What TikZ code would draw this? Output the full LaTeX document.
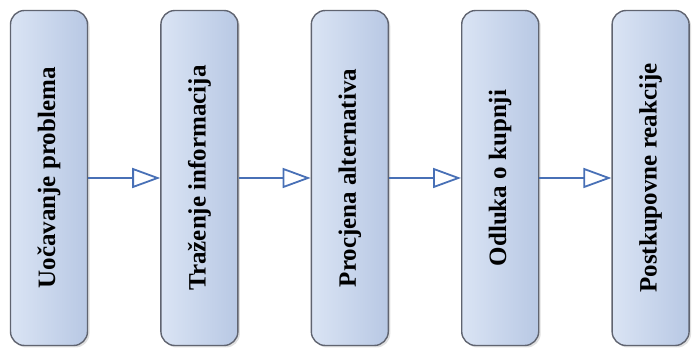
\documentclass[tikz,border=0pt]{standalone}
\usepackage{fontspec}
\setmainfont{Liberation Serif}
\usetikzlibrary{positioning,arrows.meta,shadows}
\definecolor{boxfill}{RGB}{218,228,244}
\definecolor{boxfillb}{RGB}{184,200,228}
\definecolor{boxline}{RGB}{96,100,112}
\definecolor{arrowblue}{RGB}{72,112,182}
\tikzset{
  stage/.style={draw=boxline, line width=1.4pt, rounded corners=14pt,
    left color=boxfill, right color=boxfillb,
    drop shadow={shadow xshift=2pt, shadow yshift=-2pt, fill=black!25},
    minimum width=77pt, minimum height=335pt, inner sep=0pt,
    font=\fontsize{25}{30}\selectfont\bfseries},
  flow/.style={arrowblue, line width=1.8pt,
    -{Triangle[open, length=28pt, width=20pt, line width=1.8pt]}}
}
\newcommand{\up}[1]{\rotatebox{90}{#1}}
\begin{document}
\begin{tikzpicture}[x=1pt, y=1pt]
  \useasboundingbox (0,0) rectangle (699,358);
  \node[stage] (uoc) at (49,180) {\up{Uočavanje problema}};
  \node[stage, right=72pt of uoc] (traz) {\up{Traženje informacija}};
  \node[stage, right=72pt of traz] (proc) {\up{Procjena alternativa}};
  \node[stage, right=72pt of proc] (odl) {\up{Odluka o kupnji}};
  \node[stage, right=72pt of odl] (post) {\up{Postkupovne reakcije}};
  \draw[flow] (uoc) -- (traz);
  \draw[flow] (traz) -- (proc);
  \draw[flow] (proc) -- (odl);
  \draw[flow] (odl) -- (post);
\end{tikzpicture}
\end{document}
